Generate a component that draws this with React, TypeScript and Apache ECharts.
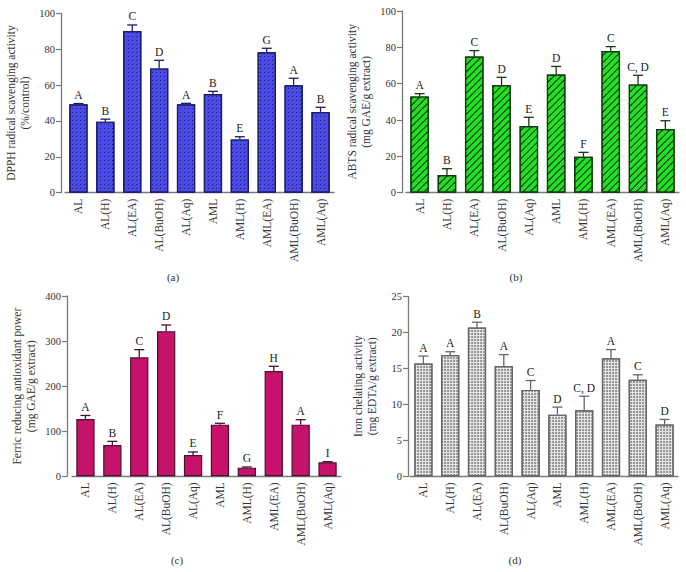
import React, { useEffect, useRef } from "react";
import * as echarts from "echarts";

const categories = ["AL", "AL(H)", "AL(EA)", "AL(BuOH)", "AL(Aq)", "AML", "AML(H)", "AML(EA)", "AML(BuOH)", "AML(Aq)"];

const dpphValues = [49.3, 39.6, 90.1, 69.3, 49.3, 55.0, 29.7, 78.3, 59.9, 45.0];
const dpphErrors = [0.4, 1.4, 3.4, 4.5, 0.5, 1.5, 1.5, 2.2, 3.9, 2.6];
const dpphLetters = ["A", "B", "C", "D", "A", "B", "E", "G", "A", "B"];

const abtsValues = [53.0, 9.7, 75.0, 59.3, 36.7, 65.0, 19.8, 78.0, 59.6, 35.0];
const abtsErrors = [1.5, 3.5, 3.2, 4.2, 4.8, 4.5, 2.4, 2.4, 5.0, 4.6];
const abtsLetters = ["A", "B", "C", "D", "E", "D", "F", "C", "C, D", "E"];

const frapValues = [127, 69.5, 264, 322, 47.3, 114.6, 19.2, 233.6, 114.6, 31];
const frapErrors = [8, 8, 17, 13.7, 6.7, 3, 1.5, 10.4, 11, 1.5];
const frapLetters = ["A", "B", "C", "D", "E", "F", "G", "H", "A", "I"];

const ironValues = [15.65, 16.85, 20.65, 15.3, 12.0, 8.56, 9.17, 16.4, 13.4, 7.18];
const ironErrors = [1.05, 0.45, 0.75, 1.6, 1.3, 1.05, 1.95, 1.2, 0.7, 0.72];
const ironLetters = ["A", "A", "B", "A", "C", "D", "C, D", "A", "C", "D"];

const yNames = [
  "DPPH radical scavenging activity\n(%/control)",
  "ABTS radical scavenging activity\n(mg GAE/g extract)",
  "Ferric reducing antioxidant power\n(mg GAE/g extract)",
  "Iron chelating activity\n(mg EDTA/g extract)",
];
const yMax = [100, 100, 400, 25];
const yInterval = [20, 20, 100, 5];
const captions = ["(a)", "(b)", "(c)", "(d)"];

const FONT = "Liberation Serif";

export default function App() {
  const ref = useRef<HTMLDivElement>(null);
  useEffect(() => {
    if (!ref.current) return;
    const chart = echarts.init(ref.current, undefined, { renderer: "svg" });

    const panels = [
      { values: dpphValues, errors: dpphErrors, letters: dpphLetters, fill: "#4a4ae6", border: "#1c1c6e",
        decal: { symbol: "rect", symbolSize: 1, dashArrayX: [[1, 3]], dashArrayY: [1, 3], color: "#1a1a70" } },
      { values: abtsValues, errors: abtsErrors, letters: abtsLetters, fill: "#22e022", border: "#143814",
        decal: { symbol: "rect", symbolSize: 1, dashArrayX: [1, 0], dashArrayY: [1, 4], rotation: -Math.PI / 4, color: "#0c2a0c" } },
      { values: frapValues, errors: frapErrors, letters: frapLetters, fill: "#c7126b", border: "#4a0f2c",
        decal: null },
      { values: ironValues, errors: ironErrors, letters: ironLetters, fill: "#e4e4e4", border: "#666666",
        decal: { symbol: "circle", symbolSize: 0.9, dashArrayX: [[2, 1]], dashArrayY: [2, 1], color: "#7a7a7a" } },
    ];

    const grids = [
      { left: 65, top: 13.3, width: 269, height: 179.4 },
      { left: 406, top: 11, width: 273, height: 181.7 },
      { left: 72, top: 296, width: 269, height: 180.3 },
      { left: 410, top: 296.3, width: 268, height: 180 },
    ];
    const yOffsets = [4, 4, 5, 2];

    const xAxes = grids.map((_, i) => ({
      type: "category",
      gridIndex: i,
      data: categories,
      axisLine: { lineStyle: { color: "#7a7a7a", width: 1.3 } },
      axisTick: { alignWithLabel: true, length: 4, lineStyle: { color: "#7a7a7a", width: 1.2 } },
      axisLabel: { rotate: 90, interval: 0, fontFamily: FONT, fontSize: 11.5, color: "#333", margin: 6 },
    }));
    const yAxes = grids.map((_, i) => ({
      type: "value",
      gridIndex: i,
      min: 0,
      max: yMax[i],
      interval: yInterval[i],
      offset: yOffsets[i],
      name: yNames[i],
      nameLocation: "middle",
      nameRotate: 90,
      nameGap: 29,
      nameTextStyle: { fontFamily: FONT, fontSize: 11.5, color: "#333", lineHeight: 14 },
      splitLine: { show: false },
      axisLine: { show: true, lineStyle: { color: "#7a7a7a", width: 1.3 } },
      axisTick: { show: true, length: 5, lineStyle: { color: "#7a7a7a", width: 1.2 } },
      axisLabel: { fontFamily: FONT, fontSize: 10.5, color: "#333", margin: 6 },
    }));

    const series: any[] = [];
    panels.forEach((p, i) => {
      series.push({
        type: "bar",
        xAxisIndex: i,
        yAxisIndex: i,
        data: p.values,
        barWidth: "68%",
        itemStyle: { color: p.fill, borderColor: p.border, borderWidth: 1.2, decal: p.decal || undefined },
        z: 2,
      });
      series.push({
        type: "custom",
        xAxisIndex: i,
        yAxisIndex: i,
        z: 3,
        data: p.values.map((v, k) => [k, v, v + p.errors[k], p.letters[k]]),
        renderItem: (params: any, api: any) => {
          const x = api.value(0);
          const base = api.coord([x, api.value(1)]);
          const top = api.coord([x, api.value(2)]);
          const letter = p.letters[params.dataIndex];
          const half = 5;
          const st = { stroke: p.border, lineWidth: 1.3 };
          return {
            type: "group",
            children: [
              { type: "line", shape: { x1: base[0], y1: base[1], x2: top[0], y2: top[1] }, style: st },
              { type: "line", shape: { x1: top[0] - half, y1: top[1], x2: top[0] + half, y2: top[1] }, style: st },
              {
                type: "text",
                style: {
                  text: letter,
                  x: top[0],
                  y: top[1] - 2.5,
                  textAlign: "center",
                  textVerticalAlign: "bottom",
                  fontFamily: FONT,
                  fontSize: 11.5,
                  fill: "#222",
                },
              },
            ],
          };
        },
      });
    });

    const captionPos = [
      [173, 277],
      [516, 277],
      [177, 560],
      [515, 560],
    ];

    chart.setOption({
      animation: false,
      backgroundColor: "#ffffff",
      grid: grids,
      xAxis: xAxes,
      yAxis: yAxes,
      series,
      graphic: captions.map((c, i) => ({
        type: "text",
        x: captionPos[i][0],
        y: captionPos[i][1],
        style: {
          text: c,
          textAlign: "center",
          textVerticalAlign: "middle",
          fontFamily: FONT,
          fontSize: 11,
          fill: "#333",
        },
      })),
    });
    return () => chart.dispose();
  }, []);
  return <div ref={ref} style={{ position: "fixed", left: 0, top: 0, width: 686, height: 572 }} />;
}
